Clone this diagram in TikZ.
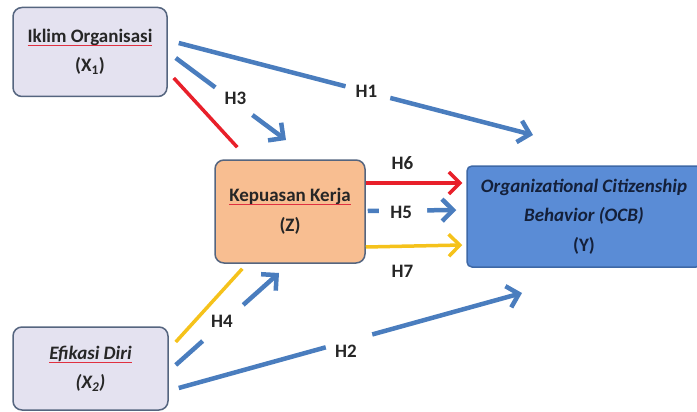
\documentclass[tikz,border=0pt]{standalone}
\usepackage{fontspec}
\setmainfont{Carlito}
\usetikzlibrary{arrows.meta}
\definecolor{lblue}{HTML}{4A7DBE}
\definecolor{lred}{HTML}{E8202A}
\definecolor{lyel}{HTML}{F5C21B}
\definecolor{xfill}{HTML}{E4E2F0}
\definecolor{zfill}{HTML}{F8BE91}
\definecolor{yfill}{HTML}{5A8CD6}
\definecolor{bord}{HTML}{55657F}
\definecolor{ybord}{HTML}{3E68A6}
\definecolor{navy}{HTML}{14203A}
\definecolor{ulred}{HTML}{E03040}
\newsavebox\ulbox
\newcommand\squl[1]{\sbox\ulbox{#1}\leavevmode\rlap{\usebox\ulbox}\raisebox{-3.5pt}{\textcolor{ulred}{\rule{\wd\ulbox}{1pt}}}}
\begin{document}
\begin{tikzpicture}[x=1pt,y=-1pt,
  box/.style={draw=bord, line width=1.5pt, rounded corners=9pt, align=center, inner sep=0pt,
    font=\fontsize{19}{29.5}\selectfont\bfseries, text=black!85},
  xbox/.style={box, fill=xfill},
  labnf/.style={font=\fontsize{19}{20}\selectfont\bfseries, text=black!85, inner sep=0pt},
  gapn/.style={fill=white, inner sep=0pt, minimum height=12pt, sloped},
  bconn/.style={line width=4.5pt, lblue},
  rconn/.style={line width=3.5pt, lred},
  yconn/.style={line width=3.5pt, lyel},
  tip/.style={-{Straight Barb[length=11pt,width=22pt]}}
]
\useasboundingbox (0,0) rectangle (697,412);
% boxes
\node[xbox, minimum width=154, minimum height=89] (x1) at (90,52)
  {\squl{Iklim Organisasi}\\(X\textsubscript{1})};
\node[box, fill=zfill, minimum width=150, minimum height=103] (z) at (290,211.5)
  {\squl{Kepuasan Kerja}\\(Z)};
\node[box, fill=yfill, draw=ybord, rounded corners=5pt, minimum width=234, minimum height=101,
  text=navy] (y) at (584,216.5)
  {\itshape Organizational Citizenship\\\itshape Behavior (OCB)\\(Y)};
\node[xbox, minimum width=155, minimum height=83] (x2) at (90.5,368.5)
  {\squl{\itshape Efikasi Diri}\\\itshape(X\textsubscript{2})};
% endpoints
\coordinate (h1s) at ([shift={(11,-9)}]x1.east);
\coordinate (h1e) at (533,135);
\coordinate (h3s) at ([shift={(8,6)}]x1.east);
\coordinate (h3e) at (286,140);
\coordinate (rs) at ([shift={(6,26)}]x1.east);
\coordinate (re) at ([shift={(23,-12)}]z.north west);
\coordinate (h6s) at ([shift={(0,-28.5)}]z.east);
\coordinate (h6e) at ([shift={(-4,-33.5)}]y.west);
\coordinate (h5s) at ([shift={(2,-0.5)}]z.east);
\coordinate (h5e) at ([shift={(-10,-6.5)}]y.west);
\coordinate (h7s) at ([shift={(0,35.5)}]z.east);
\coordinate (h7e) at ([shift={(-4,28.5)}]y.west);
\coordinate (ys) at ([shift={(7,-26.5)}]x2.east);
\coordinate (ye) at ([shift={(28,5)}]z.south west);
\coordinate (h4s) at ([shift={(7,-3.5)}]x2.east);
\coordinate (h4e) at (279,273);
\coordinate (h2s) at ([shift={(10,19.5)}]x2.east);
\coordinate (h2e) at (522,293);
% connectors
\draw[bconn, tip] (h1s) -- node[gapn, pos=0.534, minimum width=46] (g1) {} (h1e);
\node[labnf] (l1) at ([xshift=-1.5pt,yshift=1pt]g1) {H1};
\draw[bconn, tip] (h3s) -- node[gapn, pos=0.527, minimum width=46] (g3) {} (h3e);
\node[labnf] (l3) at ([xshift=1.5pt,yshift=3pt]g3) {H3};
\draw[rconn] (rs) -- (re);
\draw[rconn, tip] (h6s) -- node[labnf, pos=0.38, above=12pt] (l6) {H6} (h6e);
\draw[bconn, tip] (h5s) -- node[gapn, pos=0.40, minimum width=48] (g5) {} (h5e);
\node[labnf] (l5) at ([xshift=-2pt,yshift=-2pt]g5) {H5};
\draw[yconn, tip] (h7s) -- node[labnf, pos=0.38, below=17pt] (l7) {H7} (h7e);
\draw[yconn] (ys) -- (ye);
\draw[bconn, tip] (h4s) -- node[gapn, pos=0.457, minimum width=54] (g4) {} (h4e);
\node[labnf] (l4) at ([xshift=-1pt,yshift=2pt]g4) {H4};
\draw[bconn, tip] (h2s) -- node[gapn, pos=0.496, minimum width=48] (g2) {} (h2e);
\node[labnf] (l2) at ([xshift=-3pt,yshift=-10pt]g2) {H2};
\end{tikzpicture}
\end{document}
